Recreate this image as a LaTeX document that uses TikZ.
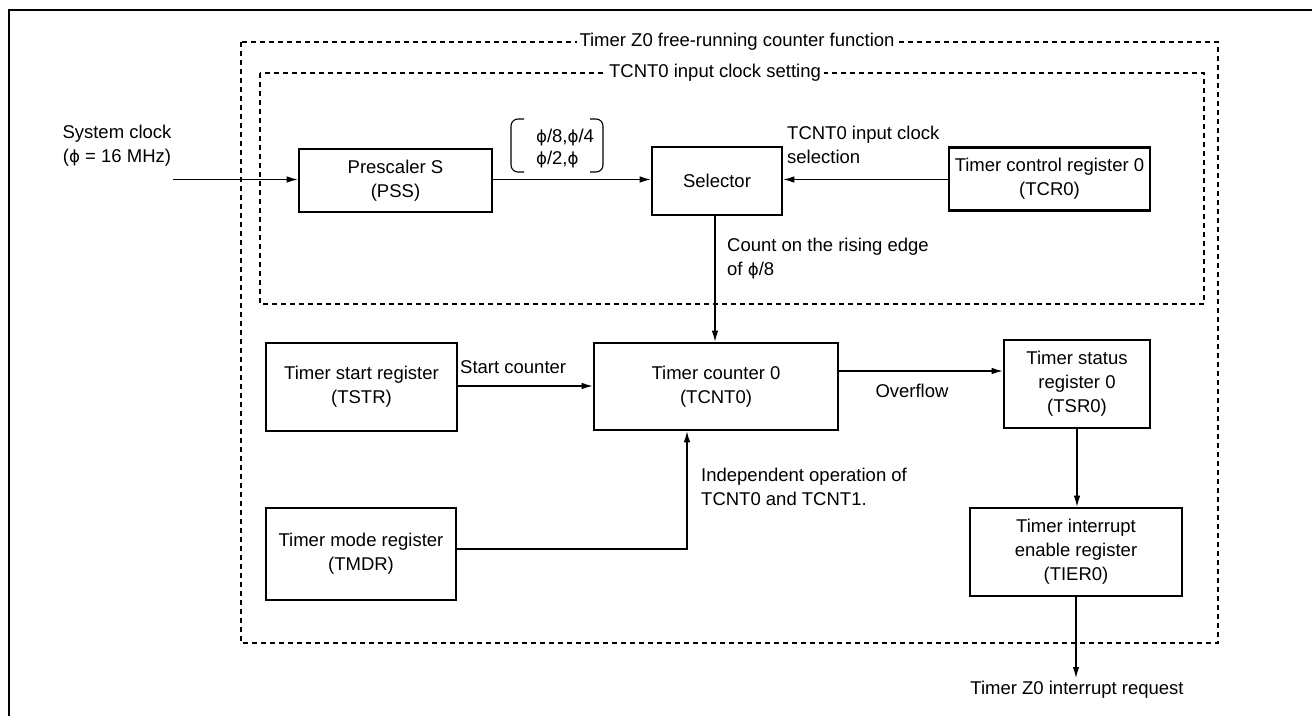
\documentclass[tikz,border=0pt]{standalone}
\usepackage{fontspec}
\setmainfont{Liberation Sans}
\newfontfamily\phifont[Scale=0.9]{DejaVu Sans}
\newcommand\phs{{\phifont ϕ}}
\usetikzlibrary{arrows.meta}
\begin{document}
\begin{tikzpicture}[x=1pt,y=-1pt,
  font=\fontsize{18.5}{24}\selectfont,
  regbox/.style={draw,line width=2.6pt,align=center,inner sep=0pt},
  arr/.style={line width=1.1pt,-{Latex[length=11pt,width=6.5pt]}},
  plain/.style={line width=1.1pt},
  dashbox/.style={line width=1.3pt,dash pattern=on 5pt off 4pt},
  frametitle/.style={fill=white,inner xsep=3pt,inner ysep=1pt},
  lbl/.style={inner sep=0pt,align=left}]
\useasboundingbox (0,0) rectangle (1312,715);
% outer solid frame
\draw[line width=2.8pt] (9,716) -- (9,10) -- (1313,10);
% dashed frames
\draw[dashbox] (241,42) rectangle (1218,643);
\draw[dashbox] (260,73) rectangle (1204,304);
\node[frametitle] (t1) at (737,42) {Timer Z0 free-running counter function};
\node[frametitle] (t2) at (715,73) {TCNT0 input clock setting};
% boxes
\node[regbox,minimum width=193pt,minimum height=63pt] (pss) at (395.5,180.5) {Prescaler S\\(PSS)};
\node[regbox,minimum width=130pt,minimum height=68pt] (sel) at (717,181) {Selector};
\node[regbox,minimum width=201pt,minimum height=63pt] (tcr) at (1049.5,179) {Timer control register 0\\(TCR0)};
\node[regbox,minimum width=191pt,minimum height=88pt] (tstr) at (361.5,387) {Timer start register\\(TSTR)};
\node[regbox,minimum width=244pt,minimum height=87pt] (tcnt) at (716,386.5) {Timer counter 0\\(TCNT0)};
\node[regbox,minimum width=146pt,minimum height=88pt] (tsr) at (1077,384) {Timer status\\register 0\\(TSR0)};
\node[regbox,minimum width=212pt,minimum height=88pt] (tier) at (1076,552) {Timer interrupt\\enable register\\(TIER0)};
\node[regbox,minimum width=190pt,minimum height=92pt] (tmdr) at (361,554) {Timer mode register\\(TMDR)};
% labels
\node[lbl,align=center] (sys) at (117,146) {System clock\\(\phs{} = 16 MHz)};
\node[lbl,anchor=west] (sellbl) at (787,145) {TCNT0 input clock\\selection};
\node[lbl,align=left,font=\fontsize{18.5}{22}\selectfont] (ph) at (565,149) {\phs/8,\phs/4\\\phs/2,\phs};
\node[lbl,anchor=west] (cnt) at (727,258.5) {Count on the rising edge\\of \phs/8};
\node[lbl,anchor=west] (stc) at (460,367) {Start counter};
\node[lbl] (ovf) at (912,391) {Overflow};
\node[lbl,anchor=west] (ind) at (701,486.5) {Independent operation of\\TCNT0 and TCNT1.};
\node[lbl] (req) at (1077,690) {Timer Z0 interrupt request};
% bracket around phi values
\draw[plain,rounded corners=7pt] (524,119) -- (511,119) -- (511,172) -- (524,172);
\draw[plain,rounded corners=7pt] (590,119) -- (603,119) -- (603,172) -- (590,172);
% connectors
\coordinate (sysin) at (173,179.5);
\draw[arr] (sysin) -- (sysin -| pss.west);
\path ([yshift=1pt]pss.east) coordinate (pe);
\draw[arr] (pe) -- (pe -| sel.west);
\path ([yshift=-0.5pt]tcr.west) coordinate (tw);
\draw[arr] (tw) -- (tw -| sel.east);
\path ([xshift=-2pt]sel.south) coordinate (ss);
\draw[arr] (ss) -- (ss |- tcnt.north);
\path ([yshift=1pt]tstr.east) coordinate (te);
\draw[arr] (te) -- (te -| tcnt.west);
\path ([yshift=15.5pt]tcnt.east) coordinate (ce);
\draw[arr] (ce) -- (ce -| tsr.west);
\draw[arr] (tsr.south) -- (tsr.south |- tier.north);
\coordinate (reqin) at (1076,678);
\draw[arr] (tier.south) -- (reqin);
\path ([yshift=5pt]tmdr.east) coordinate (me);
\draw[arr] (me) -| ([xshift=-29pt]tcnt.south);
\end{tikzpicture}
\end{document}
